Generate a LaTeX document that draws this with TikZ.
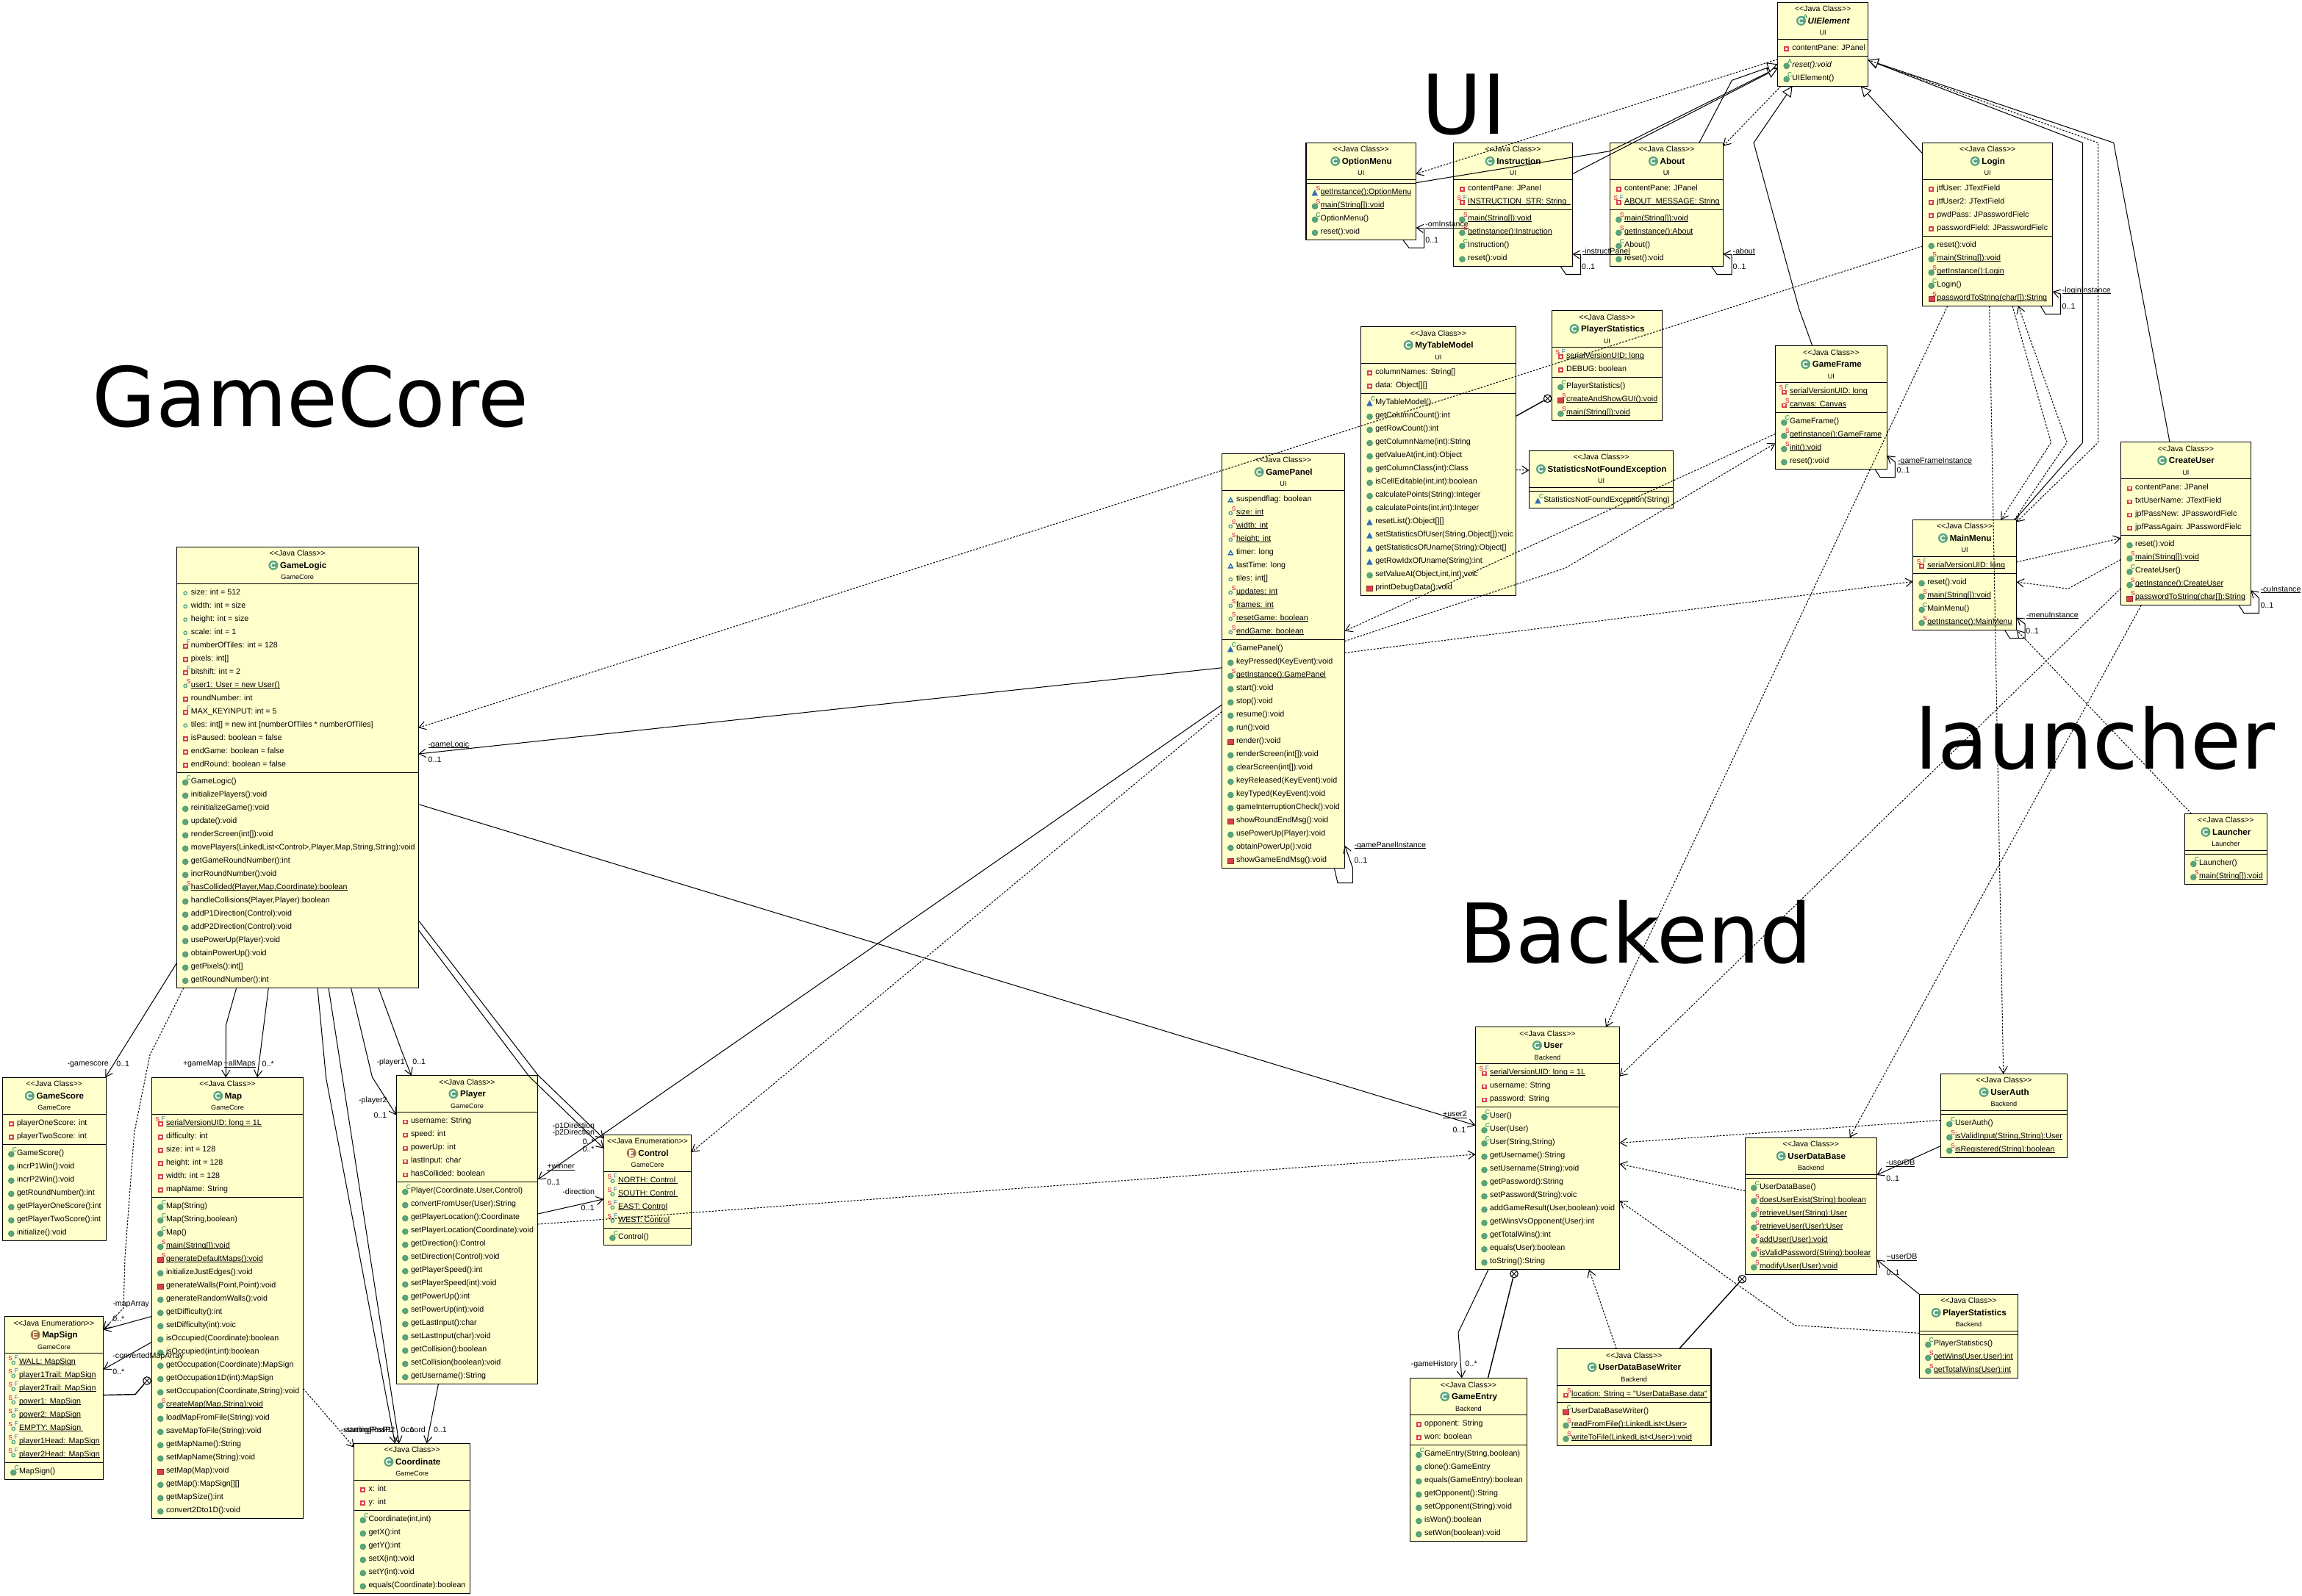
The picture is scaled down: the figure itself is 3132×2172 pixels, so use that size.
\documentclass[tikz,border=0pt]{standalone}
\usepackage{fontspec}
\usetikzlibrary{arrows.meta,calc}
\newfontfamily\lib{Liberation Sans}
\newfontfamily\dvs{DejaVu Sans}
\definecolor{boxfill}{HTML}{FFFFCC}
\definecolor{icgreen}{HTML}{5AA57E}
\definecolor{icgreenD}{HTML}{3F8A62}
\definecolor{icred}{HTML}{D9414B}
\definecolor{icblue}{HTML}{2F6DB5}
\definecolor{icbrown}{HTML}{A87442}
\definecolor{modred}{HTML}{D00040}
\definecolor{modblue}{HTML}{2F6DD0}
\definecolor{modgreen}{HTML}{008040}
\tikzset{
 x=0.01cm,y=-0.01cm,
 classbox/.style={draw=black,fill=boxfill,line width=0.36pt,inner sep=0pt,outer sep=0pt,anchor=north west},
 sepline/.style={draw=black,line width=0.36pt},
 stereo/.style={font=\lib\fontsize{3.0pt}{3.4pt}\selectfont,inner sep=0pt,anchor=base},
 ctitle/.style={font=\lib\bfseries\fontsize{3.3pt}{3.8pt}\selectfont,inner sep=0pt,anchor=base},
 cpkg/.style={font=\lib\fontsize{2.6pt}{3pt}\selectfont,inner sep=0pt,anchor=base},
 rowtext/.style={font=\lib\fontsize{3.04pt}{3.6pt}\selectfont,inner sep=0pt,anchor=base west},
 modt/.style={font=\lib\fontsize{2.4pt}{2.8pt}\selectfont,inner sep=0pt,anchor=center},
 lbl/.style={font=\lib\fontsize{3.02pt}{3.6pt}\selectfont,inner sep=0pt,anchor=base west},
 bigtxt/.style={font=\dvs\fontsize{31.9pt}{36pt}\selectfont,inner sep=0pt,anchor=base west},
 assoc/.style={draw=black,line width=0.29pt,-{Straight Barb[length=2.6pt,width=3.2pt]}},
 dep/.style={draw=black,line width=0.29pt,dash pattern=on 0.7pt off 0.55pt,-{Straight Barb[length=2.6pt,width=3.2pt]}},
 inh/.style={draw=black,line width=0.29pt,-{Triangle[open,fill=white,length=4pt,width=4pt]}},
 nestline/.style={draw=black,line width=0.4pt},
 nestc/.style={draw=black,circle,fill=white,minimum size=3pt,inner sep=0pt,line width=0.3pt},
}
\newcount\rowcnt
\newcommand\ulx[1]{\setbox0=\hbox{#1}\leavevmode\rlap{\copy0}\rule[-0.55pt]{\wd0}{0.28pt}}
\newcommand\stC{<<Java Class>>}
\newcommand\stA{<<Java Class>>}
\newcommand\stE{<<Java Enumeration>>}
\newcommand\tfC{}\newcommand\tfE{}\newcommand\tfA{\itshape}
\newcommand\cls[9]{%
 \def\curid{#1}\def\curX{#2}\global\rowcnt=0
 \pgfmathsetmacro\boxH{60+18*#5+18*#6}%
 \pgfmathsetmacro\sepA{#3+50}%
 \pgfmathsetmacro\sepB{#3+55+18*#5}%
 \pgfmathsetmacro\midX{#2+#4/2}%
 \pgfmathsetmacro\curY{\sepA+11}%
 \node[classbox,minimum width=#4*0.01cm,minimum height=\boxH*0.01cm] (#1) at (#2,#3) {};
 \draw[sepline] (#1.west |- 0,\sepA) -- (#1.east |- 0,\sepA);
 \draw[sepline] (#1.west |- 0,\sepB) -- (#1.east |- 0,\sepB);
 \node[stereo] (#1-st) at (\midX,#3+12.5) {\csname st#7\endcsname};
 \node[ctitle] (#1-n) at (\midX+8,#3+29) {\csname tf#7\endcsname #8};
 \node[cpkg] (#1-p) at (\midX,#3+44.5) {#9};
 \coordinate (#1-ic) at ($(#1-n.base west)+(-8.5,-4)$);
 \csname ti#7\endcsname{#1}%
}
\newcommand\tiC[1]{\fill[icgreen] (#1-ic) circle (6.5);
 \draw[white,line width=0.45pt] (#1-ic) ++(40:3.3) arc (40:320:3.3);}
\newcommand\tiA[1]{\fill[icgreen] (#1-ic) circle (6.5);
 \draw[white,line width=0.45pt] (#1-ic) ++(40:3.3) arc (40:320:3.3);
 \node[modt,text=modgreen] (#1-abs) at ($(#1-ic)+(6,-6)$) {A};}
\newcommand\tiE[1]{\fill[icbrown] (#1-ic) circle (6.5);
 \draw[white,line width=0.45pt] ($(#1-ic)+(2.5,-3.5)$) -- ($(#1-ic)+(-2.5,-3.5)$) -- ($(#1-ic)+(-2.5,3.5)$) -- ($(#1-ic)+(2.5,3.5)$) ($(#1-ic)+(-2.5,0)$) -- ($(#1-ic)+(2,0)$);}
% row icons
\newcommand\icm{\fill[icgreen,draw=icgreenD,line width=0.12pt] (\curX+12,\curY+2.5) circle (4);}
\newcommand\icp{\fill[icred,draw=icred!70!black,line width=0.12pt] (\curX+8,\curY-1) rectangle (\curX+16,\curY+6);}
\newcommand\ick{\fill[icblue] (\curX+7.5,\curY+6) -- (\curX+16,\curY+6) -- (\curX+11.8,\curY-2) -- cycle;}
\newcommand\ica{\draw[icgreen,fill=white,line width=0.4pt] (\curX+12,\curY+2) circle (2.2);}
\newcommand\icb{\draw[icred,fill=white,line width=0.5pt] (\curX+9.5,\curY-0.2) rectangle (\curX+14.5,\curY+4.5);}
\newcommand\icc{\draw[icblue,fill=white,line width=0.4pt] (\curX+9,\curY+4.5) -- (\curX+15,\curY+4.5) -- (\curX+12,\curY-1) -- cycle;}
% modifiers
\newcommand\rmod{}
\newcommand\rmodS{\node[modt,text=modred] (\curid-s\the\rowcnt) at (\curX+16.5,\curY-4) {S};}
\newcommand\rmodF{\node[modt,text=modblue] (\curid-f\the\rowcnt) at (\curX+16.5,\curY-4) {F};}
\newcommand\rmodC{\node[modt,text=modgreen] (\curid-c\the\rowcnt) at (\curX+16.5,\curY-4) {C};}
\newcommand\rmodA{\node[modt,text=modgreen] (\curid-a\the\rowcnt) at (\curX+16.5,\curY-4) {A};}
\newcommand\rmodSF{\node[modt,text=modred] (\curid-s\the\rowcnt) at (\curX+8,\curY-4) {S};
 \node[modt,text=modblue] (\curid-f\the\rowcnt) at (\curX+16,\curY-5) {F};}
\def\mS{S}\def\mSF{SF}
\newcommand\Row[3]{%
 \global\advance\rowcnt by 1
 \def\tmpm{#2}\def\tmpt{#3}%
 \ifx\tmpm\mS\def\tmpt{\ulx{#3}}\fi
 \ifx\tmpm\mSF\def\tmpt{\ulx{#3}}\fi
 \csname ic#1\endcsname
 \node[rowtext] (\curid-r\the\rowcnt) at (\curX+19,\curY+3.8) {\tmpt};
 \csname rmod#2\endcsname
 \pgfmathsetmacro\curY{\curY+18}%
}
\newcommand\Mth{\pgfmathsetmacro\curY{\sepB+11}}
\newcommand\Rm[1]{\Row{m}{}{#1}}
\newcommand\Rms[1]{\Row{m}{S}{#1}}
\newcommand\Rmc[1]{\Row{m}{C}{#1}}
\newcommand\Rb[1]{\Row{b}{}{#1}}
\newcommand\Rbf[1]{\Row{b}{SF}{#1}}
\newcommand\Raf[1]{\Row{a}{SF}{#1}}
\newcommand\lab[4]{\node[lbl] (#1) at (#2,#3+3.8) {#4};}
\newcommand\nestmark[3]{\node[nestc] (#1) at (#2,#3) {};
 \draw[line width=0.25pt] (#1.45) -- (#1.225) (#1.135) -- (#1.315);}
\begin{document}
\begin{tikzpicture}
\useasboundingbox (0,0) rectangle (3132,2172);
\fill[white] (0,0) rectangle (3132,2172);
% ---------- big titles
\node[bigtxt] (bigUI) at (1934,182) {UI};
\node[bigtxt] (bigGC) at (125,580) {GameCore};
\node[bigtxt] (bigLa) at (2605,1046) {launcher};
\node[bigtxt] (bigBa) at (1985,1310) {Backend};
% ---------- UI
\cls{UIElement}{2418.7}{3.3}{122.8}{1}{2}{A}{UIElement}{UI}
\Rb{contentPane: JPanel}\Mth
\Row{m}{A}{\itshape reset():void}\Rmc{UIElement()}
\cls{OptionMenu}{1777}{194.3}{149.5}{0}{4}{C}{OptionMenu}{UI}
\Mth\Row{k}{S}{getInstance():OptionMenu}\Rms{main(String[]):void}\Rmc{OptionMenu()}\Rm{reset():void}
\cls{Instruction}{1977.4}{194.3}{162}{2}{4}{C}{Instruction}{UI}
\Rb{contentPane: JPanel}\Rbf{INSTRUCTION\_STR: String\ \ }\Mth
\Rms{main(String[]):void}\Rms{getInstance():Instruction}\Rmc{Instruction()}\Rm{reset():void}
\cls{About}{2190.4}{194.3}{154}{2}{4}{C}{About}{UI}
\Rb{contentPane: JPanel}\Rbf{ABOUT\_MESSAGE: String}\Mth
\Rms{main(String[]):void}\Rms{getInstance():About}\Rmc{About()}\Rm{reset():void}
\cls{Login}{2615.7}{194.3}{177}{4}{5}{C}{Login}{UI}
\Rb{jtfUser: JTextField}\Rb{jtfUser2: JTextField}\Rb{pwdPass: JPasswordFielc}\Rb{passwordField: JPasswordFielc}\Mth
\Rm{reset():void}\Rms{main(String[]):void}\Rms{getInstance():Login}\Rmc{Login()}\Row{p}{S}{passwordToString(char[]):String}
\cls{MyTableModel}{1851.6}{444.5}{210.7}{2}{15}{C}{MyTableModel}{UI}
\Rb{columnNames: String[]}\Rb{data: Object[][]}\Mth
\Row{k}{C}{MyTableModel()}\Rm{getColumnCount():int}\Rm{getRowCount():int}\Rm{getColumnName(int):String}\Rm{getValueAt(int,int):Object}\Rm{getColumnClass(int):Class}\Rm{isCellEditable(int,int):boolean}\Rm{calculatePoints(String):Integer}\Rm{calculatePoints(int,int):Integer}\Row{k}{}{resetList():Object[][]}\Row{k}{}{setStatisticsOfUser(String,Object[]):voic}\Row{k}{}{getStatisticsOfUname(String):Object[]}\Row{k}{}{getRowIdxOfUname(String):int}\Rm{setValueAt(Object,int,int):voic}\Row{p}{}{printDebugData():void}
\cls{PlayerStatsUI}{2111.4}{422.5}{150}{2}{3}{C}{PlayerStatistics}{UI}
\Rbf{serialVersionUID: long}\Rb{DEBUG: boolean}\Mth
\Rmc{PlayerStatistics()}\Row{p}{S}{createAndShowGUI():void}\Rms{main(String[]):void}
\cls{StatsEx}{2080.6}{613.4}{196}{0}{1}{C}{StatisticsNotFoundException}{UI}
\Mth\Row{k}{C}{StatisticsNotFoundException(String)}
\cls{GamePanel}{1662.3}{617.4}{167.4}{11}{17}{C}{GamePanel}{UI}
\Row{c}{}{suspendflag: boolean}\Row{a}{S}{size: int}\Row{a}{S}{width: int}\Row{a}{S}{height: int}\Row{c}{}{timer: long}\Row{c}{}{lastTime: long}\Row{a}{}{tiles: int[]}\Row{a}{S}{updates: int}\Row{a}{S}{frames: int}\Row{a}{S}{resetGame: boolean}\Row{a}{S}{endGame: boolean}\Mth
\Row{k}{C}{GamePanel()}\Rm{keyPressed(KeyEvent):void}\Rms{getInstance():GamePanel}\Rm{start():void}\Rm{stop():void}\Rm{resume():void}\Rm{run():void}\Row{p}{}{render():void}\Rm{renderScreen(int[]):void}\Rm{clearScreen(int[]):void}\Rm{keyReleased(KeyEvent):void}\Rm{keyTyped(KeyEvent):void}\Rm{gameInterruptionCheck():void}\Row{p}{}{showRoundEndMsg():void}\Rm{usePowerUp(Player):void}\Rm{obtainPowerUp():void}\Row{p}{}{showGameEndMsg():void}
\cls{GameFrame}{2415.3}{470.6}{152}{2}{4}{C}{GameFrame}{UI}
\Rbf{serialVersionUID: long}\Row{b}{S}{canvas: Canvas}\Mth
\Rmc{GameFrame()}\Rms{getInstance():GameFrame}\Rms{init():void}\Rm{reset():void}
\cls{MainMenu}{2602.6}{707.3}{141}{1}{4}{C}{MainMenu}{UI}
\Rbf{serialVersionUID: long}\Mth
\Rm{reset():void}\Rms{main(String[]):void}\Rmc{MainMenu()}\Rms{getInstance():MainMenu}
\cls{CreateUser}{2885.5}{601.7}{176.7}{4}{5}{C}{CreateUser}{UI}
\Rb{contentPane: JPanel}\Rb{txtUserName: JTextField}\Rb{jpfPassNew: JPasswordFielc}\Rb{jpfPassAgain: JPasswordFielc}\Mth
\Rm{reset():void}\Rms{main(String[]):void}\Rmc{CreateUser()}\Rms{getInstance():CreateUser}\Row{p}{S}{passwordToString(char[]):String}
\cls{Launcher}{2972.3}{1107.3}{112}{0}{2}{C}{Launcher}{Launcher}
\Mth\Rmc{Launcher()}\Rms{main(String[]):void}
% ---------- GameCore
\cls{GameLogic}{240.2}{744.3}{329}{14}{16}{C}{GameLogic}{GameCore}
\Row{a}{}{size: int = 512}\Row{a}{}{width: int = size}\Row{a}{}{height: int = size}\Row{a}{}{scale: int = 1}\Row{b}{F}{numberOfTiles: int = 128}\Rb{pixels: int[]}\Row{b}{F}{bitshift: int = 2}\Row{a}{S}{user1: User = new User()}\Rb{roundNumber: int}\Row{b}{F}{MAX\_KEYINPUT: int = 5}\Row{a}{}{tiles: int[] = new int [numberOfTiles * numberOfTiles]}\Rb{isPaused: boolean = false}\Rb{endGame: boolean = false}\Rb{endRound: boolean = false}\Mth
\Rmc{GameLogic()}\Rm{initializePlayers():void}\Rm{reinitializeGame():void}\Rm{update():void}\Rm{renderScreen(int[]):void}\Rm{movePlayers(LinkedList<Control>,Player,Map,String,String):void}\Rm{getGameRoundNumber():int}\Rm{incrRoundNumber():void}\Rms{hasCollided(Player,Map,Coordinate):boolean}\Rm{handleCollisions(Player,Player):boolean}\Rm{addP1Direction(Control):void}\Rm{addP2Direction(Control):void}\Rm{usePowerUp(Player):void}\Rm{obtainPowerUp():void}\Rm{getPixels():int[]}\Rm{getRoundNumber():int}
\cls{GameScore}{3.3}{1466.3}{141}{2}{7}{C}{GameScore}{GameCore}
\Rb{playerOneScore: int}\Rb{playerTwoScore: int}\Mth
\Rmc{GameScore()}\Rm{incrP1Win():void}\Rm{incrP2Win():void}\Rm{getRoundNumber():int}\Rm{getPlayerOneScore():int}\Rm{getPlayerTwoScore():int}\Rm{initialize():void}
\cls{Map}{206.3}{1466.3}{206.4}{6}{24}{C}{Map}{GameCore}
\Rbf{serialVersionUID: long = 1L}\Rb{difficulty: int}\Rb{size: int = 128}\Rb{height: int = 128}\Rb{width: int = 128}\Rb{mapName: String}\Mth
\Rmc{Map(String)}\Rmc{Map(String,boolean)}\Rmc{Map()}\Rms{main(String[]):void}\Row{p}{S}{generateDefaultMaps():void}\Rm{initializeJustEdges():void}\Row{p}{}{generateWalls(Point,Point):void}\Rm{generateRandomWalls():void}\Rm{getDifficulty():int}\Rm{setDifficulty(int):voic}\Rm{isOccupied(Coordinate):boolean}\Rm{isOccupied(int,int):boolean}\Rm{getOccupation(Coordinate):MapSign}\Rm{getOccupation1D(int):MapSign}\Rm{setOccupation(Coordinate,String):void}\Rms{createMap(Map,String):void}\Rm{loadMapFromFile(String):void}\Rm{saveMapToFile(String):void}\Rm{getMapName():String}\Rm{setMapName(String):void}\Row{p}{}{setMap(Map):void}\Rm{getMap():MapSign[][]}\Rm{getMapSize():int}\Rm{convert2Dto1D():void}
\cls{MapSign}{6.3}{1791.5}{134.4}{8}{1}{E}{MapSign}{GameCore}
\Raf{WALL: MapSign}\Raf{player1Trail: MapSign}\Raf{player2Trail: MapSign}\Raf{power1: MapSign}\Raf{power2: MapSign}\Raf{EMPTY: MapSign\ }\Raf{player1Head: MapSign}\Raf{player2Head: MapSign}\Mth
\Rmc{MapSign()}
\cls{Player}{539.3}{1463.6}{192.5}{5}{15}{C}{Player}{GameCore}
\Rb{username: String}\Rb{speed: int}\Rb{powerUp: int}\Rb{lastInput: char}\Rb{hasCollided: boolean}\Mth
\Rmc{Player(Coordinate,User,Control)}\Rm{convertFromUser(User):String}\Rm{getPlayerLocation():Coordinate}\Rm{setPlayerLocation(Coordinate):void}\Rm{getDirection():Control}\Rm{setDirection(Control):void}\Rm{getPlayerSpeed():int}\Rm{setPlayerSpeed(int):void}\Rm{getPowerUp():int}\Rm{setPowerUp(int):void}\Rm{getLastInput():char}\Rm{setLastInput(char):void}\Rm{getCollision():boolean}\Rm{setCollision(boolean):void}\Rm{getUsername():String}
\cls{Control}{821.4}{1544.2}{119.3}{4}{1}{E}{Control}{GameCore}
\Raf{NORTH: Control\ }\Raf{SOUTH: Control\ }\Raf{EAST: Control}\Raf{WEST: Control}\Mth
\Rmc{Control()}
\cls{Coordinate}{481.8}{1964.4}{157.8}{2}{6}{C}{Coordinate}{GameCore}
\Rb{x: int}\Rb{y: int}\Mth
\Rmc{Coordinate(int,int)}\Rm{getX():int}\Rm{getY():int}\Rm{setX(int):void}\Rm{setY(int):void}\Rm{equals(Coordinate):boolean}
% ---------- Backend
\cls{User}{2007.5}{1397.7}{196}{3}{12}{C}{User}{Backend}
\Rbf{serialVersionUID: long = 1L}\Rb{username: String}\Rb{password: String}\Mth
\Rmc{User()}\Rmc{User(User)}\Rmc{User(String,String)}\Rm{getUsername():String}\Rm{setUsername(String):void}\Rm{getPassword():String}\Rm{setPassword(String):voic}\Rm{addGameResult(User,boolean):void}\Rm{getWinsVsOpponent(User):int}\Rm{getTotalWins():int}\Rm{equals(User):boolean}\Rm{toString():String}
\cls{GameEntry}{1918.4}{1875.5}{159.2}{2}{7}{C}{GameEntry}{Backend}
\Rb{opponent: String}\Rb{won: boolean}\Mth
\Rmc{GameEntry(String,boolean)}\Rm{clone():GameEntry}\Rm{equals(GameEntry):boolean}\Rm{getOpponent():String}\Rm{setOpponent(String):void}\Rm{isWon():boolean}\Rm{setWon(boolean):void}
\cls{UDBWriter}{2118.5}{1835.6}{209.4}{1}{3}{C}{UserDataBaseWriter}{Backend}
\Row{b}{S}{location: String = "UserDataBase.data"}\Mth
\Row{p}{C}{UserDataBaseWriter()}\Rms{readFromFile():LinkedList<User>}\Rms{writeToFile(LinkedList<User>):void}
\cls{UserDataBase}{2374.3}{1548.2}{179}{0}{7}{C}{UserDataBase}{Backend}
\Mth\Rmc{UserDataBase()}\Rms{doesUserExist(String):boolean}\Rms{retrieveUser(String):User}\Rms{retrieveUser(User):User}\Rms{addUser(User):void}\Rms{isValidPassword(String):boolear}\Rms{modifyUser(User):void}
\cls{UserAuth}{2640.3}{1461.4}{172.4}{0}{3}{C}{UserAuth}{Backend}
\Mth\Rmc{UserAuth()}\Rms{isValidInput(String,String):User}\Rms{isRegistered(String):boolean}
\cls{PlayerStatsB}{2611.3}{1761.4}{134.4}{0}{3}{C}{PlayerStatistics}{Backend}
\Mth\Rmc{PlayerStatistics()}\Rms{getWins(User,User):int}\Rms{getTotalWins(User):int}
% ---------- connector labels
\lab{lOm}{1938.6}{305}{\ulx{-omInstance}}
\lab{lOm1}{1938.6}{327}{0..1}
\lab{lIn}{2152}{341.3}{\ulx{-instructPanel}}
\lab{lIn1}{2151.5}{363}{0..1}
\lab{lAb}{2357}{341.3}{\ulx{-about}}
\lab{lAb1}{2357}{363}{0..1}
\lab{lLo}{2805}{394.7}{\ulx{-loginInstance}}
\lab{lLo1}{2805}{416.3}{0..1}
\lab{lGp}{1841.8}{1149.6}{\ulx{-gamePanelInstance}}
\lab{lGp1}{1841.8}{1171}{0..1}
\lab{lGf}{2581.4}{626.2}{\ulx{-gameFrameInstance}}
\lab{lGf1}{2580}{639.5}{0..1}
\lab{lMm}{2756.7}{836.4}{\ulx{-menuInstance}}
\lab{lMm1}{2755.7}{858.4}{0..1}
\lab{lCu}{3074.8}{801.2}{\ulx{-cuInstance}}
\lab{lCu1}{3074.8}{823.7}{0..1}
\lab{lGl}{582}{1012.4}{\ulx{-gameLogic}}
\lab{lGl1}{582}{1034}{0..1}
\lab{lU2}{1962.4}{1516}{\ulx{+user2}}
\lab{lU21}{1975.8}{1538}{0..1}
\lab{lGh}{1919}{1856}{-gameHistory}
\lab{lGh1}{1993}{1856}{0..*}
\lab{lDb}{2565.7}{1582}{\ulx{-userDB}}
\lab{lDb1}{2565.7}{1604}{0..1}
\lab{lDc}{2566}{1710}{\ulx{\textasciitilde userDB}}
\lab{lDc1}{2566}{1732}{0..1}
\lab{lGs}{91}{1447}{-gamescore}
\lab{lGs1}{157.7}{1447.7}{0..1}
\lab{lGm}{248.3}{1447}{+gameMap}
\lab{lAm}{304}{1447}{\ulx{+allMaps}}
\lab{lAm1}{356}{1447.7}{0..*}
\lab{lMa}{152.7}{1773.4}{-mapArray}
\lab{lMa1}{152.7}{1795}{0..*}
\lab{lCm}{152.7}{1845}{-convertedMapArray}
\lab{lCm1}{152.7}{1866.8}{0..*}
\lab{lP1}{511.8}{1444.5}{-player1}
\lab{lP11}{560.7}{1445}{0..1}
\lab{lP2}{487.5}{1496.5}{-player2}
\lab{lP21}{507.9}{1517.7}{0..1}
\lab{lD1}{751}{1532}{-p1Direction}
\lab{lD2}{751}{1541}{-p2Direction}
\lab{lD11}{791.8}{1553.8}{0..*}
\lab{lD21}{791.8}{1563.3}{0..*}
\lab{lWi}{743.6}{1587}{\ulx{+winner}}
\lab{lWi1}{743.6}{1609}{0..1}
\lab{lDi}{764.6}{1622}{-direction}
\lab{lDi1}{790}{1643.5}{0..1}
\lab{lSp1}{463}{1946}{-startingPosP1}
\lab{lSp2}{467}{1946}{-startingPosP2}
\lab{lC01}{545}{1946}{0..1}
\lab{lCo}{548}{1946}{-coord}
\lab{lC02}{589.3}{1946}{0..1}
% ---------- UI connectors
\draw[inh] (OptionMenu.east |- 0,248.7) -- (2190.4,205.7) -- (UIElement.west |- 0,92);
\draw[inh] (Instruction.east |- 0,236.7) -- (UIElement.west |- 0,93);
\draw[inh] (About.north -| 2311.8,0) -- (2356.4,109.3) -- (UIElement.west |- 0,87.3);
\draw[dep] (UIElement.west |- 0,80.7) -- (OptionMenu.east |- 0,236.7);
\draw[dep] (UIElement.south -| 2423,0) -- (About.east |- 0,198.7);
\draw[inh] (GameFrame.north -| 2465.8,0) -- (2447.5,420) -- (2386,194.3) -- (UIElement.south -| 2438.6,0);
\draw[inh] (Login.west |- 0,209) -- (UIElement.south -| 2531.6,0);
\draw[inh] (MainMenu.north -| 2741.5,0) -- (2833.7,602.2) -- (2833.7,194.3) -- (UIElement.east |- 0,81.7);
\draw[inh] (CreateUser.north -| 2952,0) -- (2875.7,194.3) -- (UIElement.east |- 0,81.7);
\draw[dep] (UIElement.east |- 0,81.7) -- (2854.7,194.3) -- (2854.6,602.2) -- (MainMenu.east |- 0,710.4);
\draw[dep] (Login.south -| 2738,0) -- (2790.5,602.2) -- (MainMenu.north -| 2722.3,0);
\draw[dep] (MainMenu.north -| 2740.5,0) -- (2812.2,602.2) -- (Login.south -| 2746,0);
\draw[dep] (Login.south -| 2706.7,0) -- (UserAuth.north -| 2725.7,0);
\draw[dep] (Login.south -| 2649.8,0) -- (User.north -| 2185,0);
\draw[dep] (CreateUser.west |- 0,800.7) -- (User.east |- 0,1464.8);
\draw[dep] (CreateUser.south -| 2913.2,0) -- (UserDataBase.north -| 2516.7,0);
\draw[dep] (MainMenu.east |- 0,765) -- (CreateUser.west |- 0,732.3);
\draw[dep] (CreateUser.west |- 0,761.4) -- (2813.7,801.2) -- (MainMenu.east |- 0,792);
\draw[dep] (Launcher.north -| 2981.4,0) -- (MainMenu.south east);
% self loops
\draw[assoc] (OptionMenu.south -| 1908.7,0) -- (1917,337.3) -- (1937.7,337.3) -- (1937.7,311) -- (OptionMenu.east |- 0,310);
\draw[assoc] (Instruction.south -| 2123,0) -- (2130.5,373.3) -- (2150.6,373.3) -- (2150.6,346.7) -- (Instruction.east |- 0,345.7);
\draw[assoc] (About.south -| 2328.3,0) -- (2336,373.3) -- (2356,373.3) -- (2356,346.7) -- (About.east |- 0,345.7);
\draw[assoc] (Login.south -| 2776.3,0) -- (2782.8,427.3) -- (2803.4,427.3) -- (2803.4,400) -- (Login.east |- 0,396.7);
\draw[assoc] (GamePanel.south -| 1815.4,0) -- (1820,1201.6) -- (1840.4,1201.6) -- (1840.4,1181.2) -- (GamePanel.east |- 0,1150.6);
\draw[assoc] (GameFrame.south -| 2551,0) -- (2558.2,649.7) -- (2578.4,649.7) -- (2578.4,628.8) -- (GameFrame.east |- 0,620);
\draw[assoc] (MainMenu.south -| 2727.4,0) -- (2734.4,868.6) -- (2755,868.6) -- (2755,849) -- (MainMenu.east |- 0,840.5);
\draw[assoc] (CreateUser.south -| 3046,0) -- (3053,834.4) -- (3073.3,834.4) -- (3073.3,813.5) -- (CreateUser.east |- 0,803.3);
% nesting and stats
\nestmark{nPS}{2105.6}{542.4}
\draw[nestline] (MyTableModel.east |- 0,566.4) -- (nPS);
\draw[dep] (MyTableModel.east |- 0,639.4) -- (StatsEx.west |- 0,640);
% across the packages
\draw[dep] (Login.west |- 0,335) -- (GameLogic.east |- 0,990.4);
\draw[assoc] (GamePanel.west |- 0,908.8) -- (GameLogic.east |- 0,1026);
\draw[dep] (GameFrame.west |- 0,590.5) -- (GamePanel.east |- 0,858.8);
\draw[dep] (GamePanel.east |- 0,872.6) -- (2130,773) -- (GameFrame.west |- 0,603.3);
\draw[dep] (GamePanel.east |- 0,888.4) -- (MainMenu.west |- 0,791.5);
\draw[assoc] (GamePanel.west |- 0,959.3) -- (Player.east |- 0,1605);
\draw[dep] (GamePanel.west |- 0,968.5) -- (Control.east |- 0,1568);
\draw[assoc] (GameLogic.east |- 0,1094.5) -- (User.west |- 0,1531.5);
\draw[dep] (Player.east |- 0,1666) -- (User.west |- 0,1571);
% ---------- Backend connectors
\draw[dep] (UserAuth.west |- 0,1524.6) -- (User.east |- 0,1555.3);
\draw[dep] (UserDataBase.west |- 0,1620.7) -- (User.east |- 0,1584);
\draw[dep] (PlayerStatsB.west |- 0,1814.3) -- (2441.7,1803.6) -- (User.east |- 0,1634);
\draw[dep] (UDBWriter.north -| 2199.3,0) -- (User.south -| 2162,0);
\nestmark{nUDB}{2370.3}{1740.7}
\draw[nestline] (UDBWriter.north -| 2284.6,0) -- (nUDB);
\draw[assoc] (User.south -| 2025,0) -- (1984,1813.3) -- (GameEntry.north -| 1988.8,0);
\nestmark{nGE}{2060}{1733.5}
\draw[nestline] (GameEntry.north -| 2024.4,0) -- (nGE);
\draw[assoc] (UserAuth.west |- 0,1559.6) -- (UserDataBase.east |- 0,1599);
\draw[assoc] (PlayerStatsB.north -| 2611.3,0) -- (UserDataBase.east |- 0,1714.3);
% ---------- GameCore connectors
\draw[assoc] (GameLogic.west |- 0,1311) -- (GameScore.north -| 143.3,0);
\draw[dep] (GameLogic.south -| 250,0) -- (204,1435.5) -- (182.7,1541.6) -- (170,1711) -- (168,1780) -- (MapSign.east |- 0,1809.5);
\draw[assoc] (GameLogic.south -| 321.7,0) -- (307.3,1395.7) -- (Map.north -| 307.3,0);
\draw[assoc] (GameLogic.south -| 365.3,0) -- (Map.north -| 350,0);
\draw[assoc] (GameLogic.south -| 432,0) -- (443.6,1467) -- (Coordinate.north -| 537.5,0);
\draw[assoc] (GameLogic.south -| 447,0) -- (Coordinate.north -| 543,0);
\draw[assoc] (GameLogic.south -| 477.5,0) -- (506.4,1465.7) -- (Player.west |- 0,1517.7);
\draw[assoc] (GameLogic.south -| 515,0) -- (546.4,1430) -- (Player.north -| 559.6,0);
\draw[assoc] (GameLogic.east |- 0,1252.4) -- (731.8,1463) -- (Control.west |- 0,1549.5);
\draw[assoc] (GameLogic.east |- 0,1265.5) -- (720,1465) -- (Control.west |- 0,1562.8);
\draw[assoc] (Player.east |- 0,1652) -- (Control.west |- 0,1631.8);
\draw[assoc] (Player.south -| 596.4,0) -- (Coordinate.north -| 580.4,0);
\draw[dep] (Map.east |- 0,1890) -- (Coordinate.west |- 0,1969.7);
\draw[assoc] (Map.west |- 0,1791.5) -- (MapSign.east |- 0,1809.5);
\draw[assoc] (Map.west |- 0,1826.5) -- (MapSign.east |- 0,1863.6);
\nestmark{nMS}{200}{1879}
\draw[nestline] (MapSign.east |- 0,1898.6) -- (184,1897.6) -- (nMS);
\end{tikzpicture}
\end{document}
